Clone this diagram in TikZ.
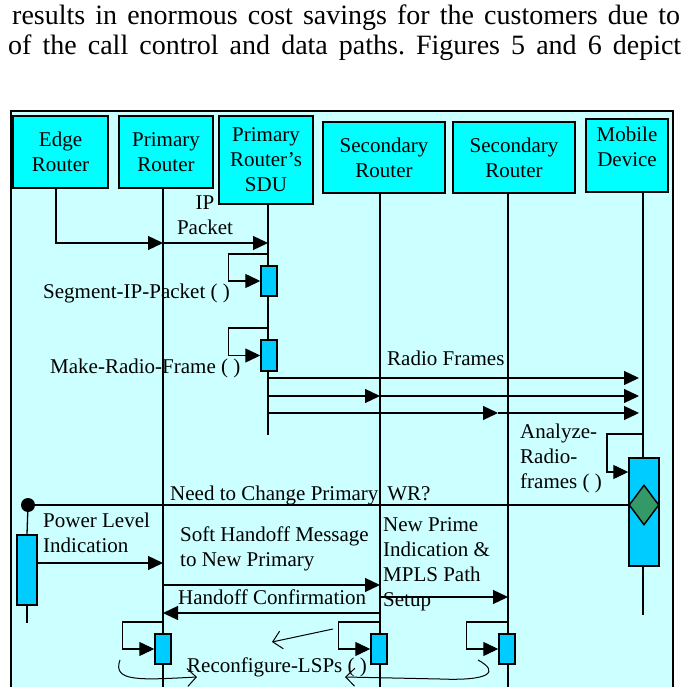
\documentclass[tikz,border=0pt]{standalone}
\usepackage{fontspec}
\setmainfont{Liberation Serif}
\usetikzlibrary{arrows.meta,shapes.geometric}
\definecolor{paleCyan}{HTML}{CCFFFF}
\definecolor{headCyan}{HTML}{00FFFF}
\definecolor{actBlue}{HTML}{00CCFF}
\definecolor{decGreen}{HTML}{339966}
\frenchspacing

\begin{document}
\begin{tikzpicture}[x=1pt,y=-1pt,
  actor/.style={draw, line width=1.6pt, fill=headCyan, align=center, inner sep=0pt, font=\fontsize{21}{25}\selectfont},
  act/.style={draw, line width=1.4pt, fill=actBlue, inner sep=0pt, minimum width=16pt, minimum height=30pt},
  life/.style={line width=1.3pt},
  msg/.style={line width=1.3pt, -{Triangle[length=15pt,width=14pt]}},
  hint/.style={line width=1pt, -{Straight Barb[length=9pt,width=18pt]}},
  lbl/.style={font=\fontsize{21}{25}\selectfont, inner sep=0pt, align=left, anchor=west},
  prose/.style={font=\fontsize{28}{30}\selectfont, inner sep=0pt, anchor=base west}]
\useasboundingbox (0,0) rectangle (689,687);
\clip (0,0) rectangle (689,687);

\node[prose] (proseA) at (12,25) {\makebox[668pt][s]{results in enormous cost savings for the customers due to}};
\node[prose] (proseB) at (8,55) {\makebox[673pt][s]{of the call control and data paths. Figures 5 and 6 depict}};

\draw[line width=1.6pt, fill=paleCyan] (11,111) rectangle (673,720);

\node[actor, minimum width=95pt, minimum height=72pt] (edge) at (60.5,152) {Edge\\Router};
\node[actor, minimum width=94pt, minimum height=72pt] (prim) at (166,152) {Primary\\Router};
\node[actor, minimum width=94pt, minimum height=88pt] (sdu) at (266,160) {Primary\\Router's\\SDU};
\node[actor, minimum width=122pt, minimum height=71pt] (secA) at (384,157.5) {Secondary\\Router};
\node[actor, minimum width=122pt, minimum height=71pt] (secB) at (514,157.5) {Secondary\\Router};
\node[actor, minimum width=82pt, minimum height=73pt,
  label={[font=\fontsize{21}{25}\selectfont, align=center, inner sep=0pt, yshift=9pt]center:Mobile\\Device}] (mob) at (627,155.5) {};

\coordinate (lE) at (56,188);
\coordinate (lP) at (163,188);
\coordinate (lS) at (268,204);
\coordinate (lA) at (380,193);
\coordinate (lB) at (508,193);
\coordinate (lM) at (643,192);

\draw[life] (lP) -- (lP |- 0,700);
\draw[life] (lS) -- (lS |- 0,435);
\draw[life] (lA) -- (lA |- 0,700);
\draw[life] (lB) -- (lB |- 0,700);
\draw[life] (lM) -- (lM |- 0,615);

\draw[msg] (lE) |- (lP |- 0,243);
\draw[msg] (lP |- 0,243) -- (lS |- 0,243);
\node[lbl, anchor=center, align=center] (ipLbl) at (205,215) {IP\\Packet};

\node[act] (segAct) at (269,281) {};
\draw[msg] (lS |- 0,254) -| ([xshift=-32pt]segAct.west) -- (segAct.west);
\node[lbl] (segLbl) at (43,293) {Segment-IP-Packet ( )};

\node[act, minimum height=31pt] (makeAct) at (269,355.5) {};
\draw[msg] (lS |- 0,328) -| ([xshift=-32pt]makeAct.west) -- (makeAct.west);
\node[lbl] (makeLbl) at (50,368) {Make-Radio-Frame ( )};

\coordinate (midC) at (498,413);
\draw[msg, shorten >=4pt] (lS |- 0,378) -- (lM |- 0,378);
\draw[msg] (lS |- 0,396) -- (lA |- 0,396);
\draw[msg, shorten >=4pt] (lA |- 0,396) -- (lM |- 0,396);
\draw[msg] (lS |- 0,413) -- (midC);
\draw[msg, shorten >=4pt] (midC) -- (lM |- 0,413);
\node[lbl] (rfLbl) at (387,358) {Radio Frames};

\node[act, minimum width=30pt, minimum height=108pt] (mobAct) at (644,512) {};
\node[diamond, draw, line width=1.4pt, fill=decGreen, inner sep=0pt, minimum width=30pt, minimum height=40pt] (dec) at (644,505) {};
\coordinate (anTurn) at (607,472);
\draw[msg] (lM |- 0,434) -| (anTurn) -- (mobAct.west |- anTurn);
\node[lbl] (anLbl) at (520,458) {Analyze-\\Radio-\\frames ( )};

\node[circle, fill, inner sep=0pt, minimum size=14pt] (dot) at (28,505) {};
\draw[life] (dot) -- (dec.west);
\node[act, minimum width=20pt, minimum height=70pt] (powAct) at (27,570) {};
\draw[life] (dot) -- (powAct.north);
\draw[life] (powAct.south) -- ++(0,17);
\draw[msg] (powAct.east |- 0,563) -- (lP |- 0,563);
\node[lbl] (powLbl) at (43,533) {Power Level\\Indication};
\node[lbl] (needLbl) at (170,495) {Need to Change Primary\hspace{9pt}WR?};

\draw[msg] (lP |- 0,585) -- (lA |- 0,585);
\node[lbl] (softLbl) at (180,548.5) {Soft Handoff Message\\to New Primary};
\draw[msg] (lA |- 0,613) -- (lP |- 0,613);
\node[lbl] (confLbl) at (178,597) {Handoff Confirmation};
\draw[msg] (lA |- 0,597) -- (lB |- 0,597);
\node[lbl] (primeLbl) at (383,564.5) {New Prime\\Indication \&\\MPLS Path\\Setup};

\foreach \n/\x in {recP/163, recA/379, recB/507} {
  \node[act] (\n) at (\x,649) {};
  \draw[msg] (\x,622) -| ([xshift=-32pt]\n.west) -- (\n.west);
}
\node[lbl] (recLbl) at (187,667) {Reconfigure-LSPs ( )};

\coordinate (hA) at (333,629);
\coordinate (hAe) at (272,642);
\coordinate (hB) at (120,660);
\coordinate (hBe) at (197,677);
\coordinate (hC) at (478,660);
\coordinate (hCe) at (345,677);
\draw[hint] (hA) -- (hAe);
\draw[hint] (hB) .. controls (112,682) and (140,680) .. (hBe);
\draw[hint] (hC) .. controls (500,672) and (490,681) .. (440,679) -- (hCe);
\end{tikzpicture}
\end{document}
